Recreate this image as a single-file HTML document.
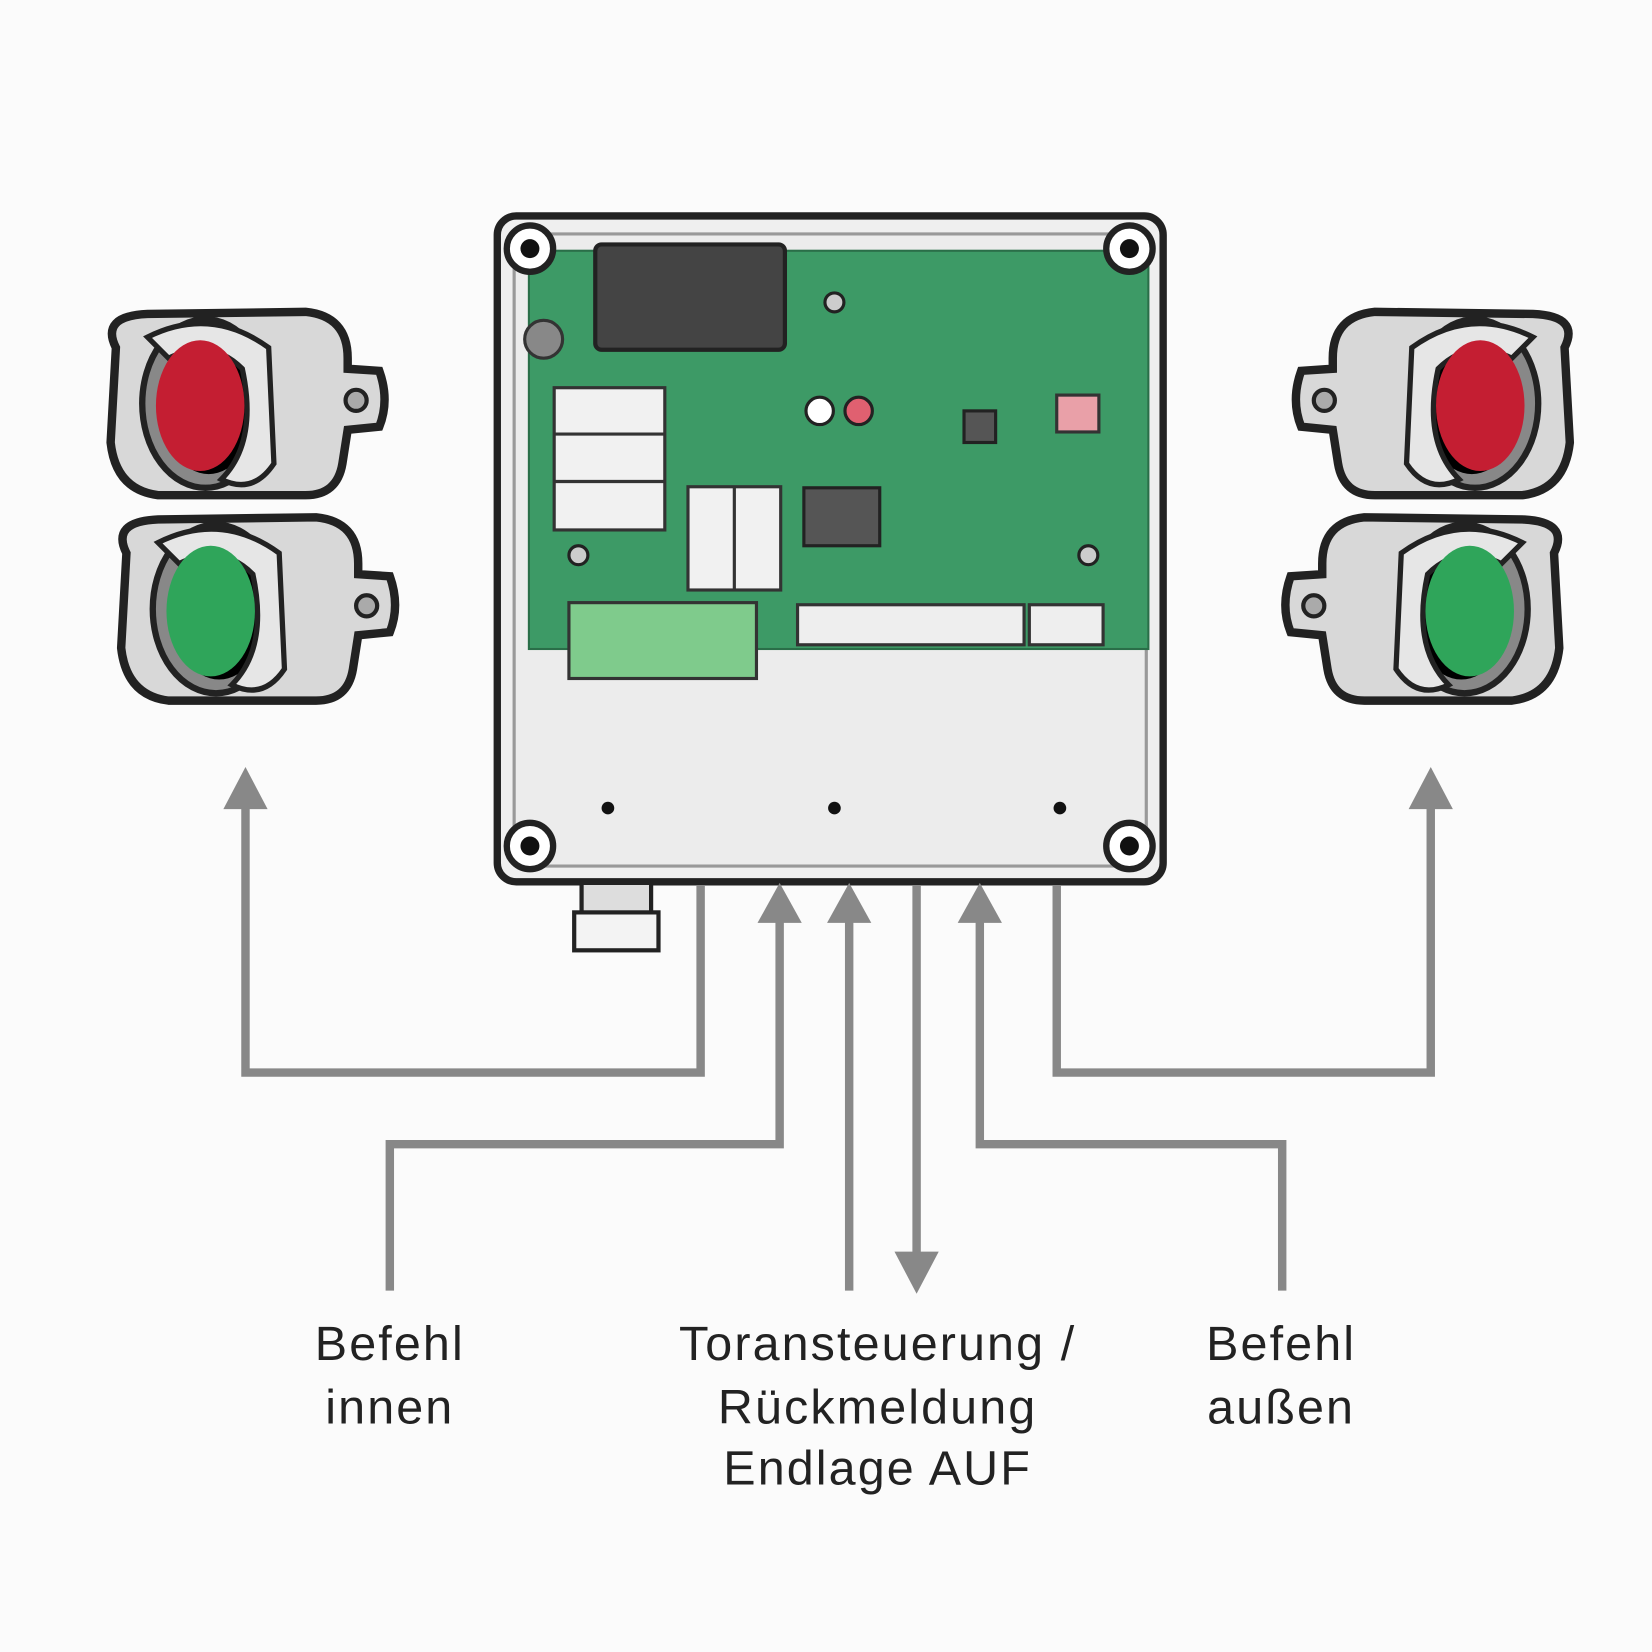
<!DOCTYPE html>
<html><head><meta charset="utf-8"><style>html,body{margin:0;padding:0;background:#fbfbfb}svg{display:block}</style></head><body>
<svg width="1652" height="1652" viewBox="0 0 1568 1568" xmlns="http://www.w3.org/2000/svg">
<rect width="1568" height="1568" fill="#fbfbfb"/>
<defs>
<g id="lamp">
  <path d="M110 330 Q95 300 140 298 L290 296 Q330 300 330 340 L330 350 L360 352 Q370 380 360 405 L330 408 L325 440 Q320 470 290 470 L150 470 Q110 465 105 420 Z" fill="#d8d8d8" stroke="#222" stroke-width="8"/>
  <ellipse cx="195" cy="383" rx="60" ry="80" fill="#888" stroke="#222" stroke-width="6"/>
  <ellipse cx="198" cy="385" rx="45" ry="65"/>
  <path d="M140 320 Q200 290 255 330 L260 440 Q240 470 210 455 Q245 420 230 350 Q200 320 160 340 Z" fill="#e6e6e6" stroke="#222" stroke-width="5"/>
  <circle cx="338" cy="380" r="10" fill="#aaa" stroke="#222" stroke-width="4"/>
</g>
</defs>
<g><use href="#lamp"/><ellipse cx="190" cy="385" rx="42" ry="62" fill="#c41e32"/></g>
<g transform="translate(10,195)"><use href="#lamp"/><ellipse cx="190" cy="385" rx="42" ry="62" fill="#2fa55a"/></g>
<g transform="translate(1595,0) scale(-1,1)"><use href="#lamp"/><ellipse cx="190" cy="385" rx="42" ry="62" fill="#c41e32"/></g>
<g transform="translate(1585,195) scale(-1,1)"><use href="#lamp"/><ellipse cx="190" cy="385" rx="42" ry="62" fill="#2fa55a"/></g>

<rect x="472" y="205" width="632" height="632" rx="18" fill="#efefef" stroke="#222" stroke-width="7"/>
<rect x="488" y="222" width="600" height="600" rx="8" fill="#ececec" stroke="#999" stroke-width="3"/>
<rect x="502" y="238" width="588" height="378" fill="#3d9a66" stroke="#2a6e48" stroke-width="2"/>
<rect x="565" y="232" width="180" height="100" rx="6" fill="#444" stroke="#222" stroke-width="4"/>
<circle cx="516" cy="322" r="18" fill="#888" stroke="#333" stroke-width="3"/>
<rect x="526" y="368" width="105" height="135" fill="#f1f1f1" stroke="#333" stroke-width="3"/>
<line x1="526" y1="412" x2="631" y2="412" stroke="#333" stroke-width="3"/><line x1="526" y1="457" x2="631" y2="457" stroke="#333" stroke-width="3"/>
<rect x="653" y="462" width="88" height="98" fill="#f1f1f1" stroke="#333" stroke-width="3"/>
<line x1="697" y1="462" x2="697" y2="560" stroke="#333" stroke-width="3"/>
<rect x="763" y="463" width="72" height="55" fill="#555" stroke="#222" stroke-width="3"/>
<rect x="915" y="390" width="30" height="30" fill="#555" stroke="#222" stroke-width="3"/>
<rect x="1003" y="375" width="40" height="35" fill="#e9a0a8" stroke="#333" stroke-width="3"/>
<circle cx="778" cy="390" r="13" fill="#fff" stroke="#222" stroke-width="3"/><circle cx="815" cy="390" r="13" fill="#e06070" stroke="#222" stroke-width="3"/>
<circle cx="792" cy="287" r="9" fill="#ccc" stroke="#222" stroke-width="3"/>
<circle cx="549" cy="527" r="9" fill="#ccc" stroke="#222" stroke-width="3"/><circle cx="1033" cy="527" r="9" fill="#ccc" stroke="#222" stroke-width="3"/>
<rect x="540" y="572" width="178" height="72" fill="#7fcb8c" stroke="#333" stroke-width="3"/>
<rect x="757" y="574" width="215" height="38" fill="#eee" stroke="#333" stroke-width="3"/>
<rect x="977" y="574" width="70" height="38" fill="#eee" stroke="#333" stroke-width="3"/>
<circle cx="503" cy="236" r="22" fill="#fff" stroke="#222" stroke-width="6"/><circle cx="503" cy="236" r="9" fill="#111"/>
<circle cx="1072" cy="236" r="22" fill="#fff" stroke="#222" stroke-width="6"/><circle cx="1072" cy="236" r="9" fill="#111"/>
<circle cx="503" cy="803" r="22" fill="#fff" stroke="#222" stroke-width="6"/><circle cx="503" cy="803" r="9" fill="#111"/>
<circle cx="1072" cy="803" r="22" fill="#fff" stroke="#222" stroke-width="6"/><circle cx="1072" cy="803" r="9" fill="#111"/>
<circle cx="577" cy="767" r="6" fill="#111"/><circle cx="792" cy="767" r="6" fill="#111"/><circle cx="1006" cy="767" r="6" fill="#111"/>
<rect x="552" y="838" width="66" height="30" fill="#ddd" stroke="#222" stroke-width="4"/>
<rect x="545" y="866" width="80" height="36" fill="#f3f3f3" stroke="#222" stroke-width="4"/>

<g fill="none" stroke="#888" stroke-width="8">
<polyline points="665,840 665,1018 233,1018 233,760"/>
<polyline points="740,870 740,1086 370,1086 370,1225"/>
<polyline points="806,870 806,1225"/>
<polyline points="870,840 870,1195"/>
<polyline points="930,870 930,1086 1217,1086 1217,1225"/>
<polyline points="1003,840 1003,1018 1358,1018 1358,760"/>
</g>
<g fill="#888">
<polygon points="233,728 212,768 254,768"/>
<polygon points="1358,728 1337,768 1379,768"/>
<polygon points="740,838 719,876 761,876"/>
<polygon points="806,838 785,876 827,876"/>
<polygon points="930,838 909,876 951,876"/>
<polygon points="870,1228 849,1188 891,1188"/>
</g>
<g font-family="Liberation Sans, sans-serif" font-size="46" fill="#222" text-anchor="middle" letter-spacing="2">
<text x="370" y="1291">Befehl</text><text x="370" y="1351">innen</text>
<text x="833" y="1291">Toransteuerung /</text><text x="833" y="1351">Rückmeldung</text><text x="833" y="1409">Endlage AUF</text>
<text x="1216" y="1291">Befehl</text><text x="1216" y="1351">außen</text>
</g>
</svg>
</body></html>
